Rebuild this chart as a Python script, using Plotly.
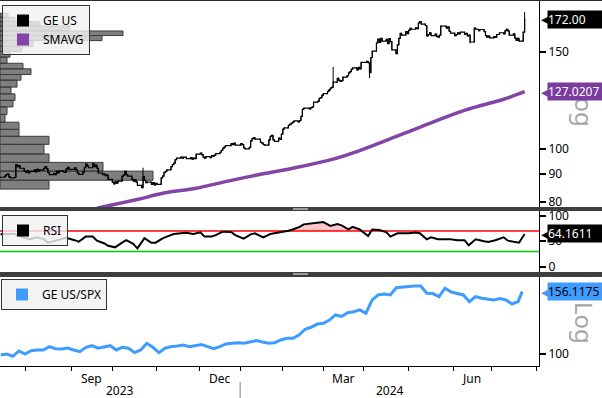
import numpy as np
import pandas as pd
import plotly.graph_objects as go

# ---------------- data ----------------
first_day = "2023-07-14"
axis_last_day = "2024-08-02"
holidays = ["2023-09-04", "2023-11-23", "2023-12-25", "2024-01-01", "2024-01-15",
            "2024-02-19", "2024-03-29", "2024-05-27", "2024-06-19", "2024-07-04"]

# GE US daily closes (258 trading days, 2023-07-14 .. 2024-07-23)
ge_close = [
    88.8, 89.2, 89.8, 90.0, 88.9, 88.6, 88.7, 93.6, 92.8, 93.2,
    92.2, 91.0, 90.6, 91.2, 90.4, 91.0, 91.5, 90.8, 91.8, 91.2,
    91.6, 92.2, 92.8, 92.0, 90.5, 89.8, 90.2, 89.8, 91.0, 90.4,
    91.2, 90.8, 90.6, 92.0, 92.6, 91.8, 92.4, 91.6, 90.4, 89.9,
    90.6, 92.4, 93.8, 93.0, 92.4, 94.0, 92.8, 93.4, 92.2, 90.4,
    89.8, 90.0, 89.4, 89.6, 88.0, 87.0, 86.4, 87.2, 86.6, 87.4,
    89.2, 89.6, 91.0, 89.8, 89.2, 88.0, 87.4, 87.8, 87.0, 85.8,
    85.0, 89.0, 87.6, 86.8, 87.0, 86.2, 86.8, 86.0, 86.6, 86.2,
    88.6, 89.2, 90.6, 91.0, 91.6, 92.8, 93.6, 94.2, 95.6, 96.2,
    96.6, 96.2, 96.6, 96.0, 96.4, 95.8, 96.2, 96.0, 97.8, 98.2,
    97.6, 96.6, 96.2, 96.8, 96.4, 97.2, 97.0, 97.4, 98.0, 98.6,
    99.4, 100.2, 100.8, 101.4, 102.2, 101.8, 102.4, 101.6, 102.2, 101.8,
    100.4, 100.0, 100.6, 103.4, 104.4, 104.8, 104.2, 102.8, 102.4, 101.8,
    101.6, 103.8, 105.4, 105.8, 103.8, 103.2, 104.6, 104.0, 106.4, 108.6,
    109.2, 110.4, 110.8, 111.4, 111.8, 112.4, 111.9, 112.6, 114.6, 118.0,
    118.6, 118.2, 118.8, 119.2, 121.6, 122.0, 123.6, 123.9, 125.2, 126.0,
    127.2, 128.0, 129.0, 129.4, 132.2, 134.4, 133.2, 132.6, 133.0, 135.0,
    135.8, 137.4, 138.2, 139.6, 140.4, 139.2, 140.6, 139.8, 143.6, 144.2,
    143.4, 137.6, 146.6, 150.5, 155.8, 158.4, 156.2, 158.8, 157.0, 158.2,
    155.4, 158.6, 156.6, 151.4, 149.0, 154.6, 158.8, 162.2, 161.0, 163.4,
    162.0, 164.2, 165.6, 165.0, 166.0, 165.4, 169.4, 170.4, 168.6, 167.6,
    160.4, 161.4, 162.6, 160.6, 161.6, 160.2, 159.6, 161.0, 167.2, 165.8,
    166.6, 163.6, 162.4, 160.6, 161.4, 162.6, 161.8, 163.0, 161.6, 162.2,
    160.4, 161.0, 156.4, 165.8, 165.0, 164.0, 164.8, 163.4, 160.6, 159.6,
    160.4, 159.2, 160.0, 159.4, 161.4, 162.6, 161.8, 164.0, 165.0, 163.8,
    161.0, 161.8, 159.0, 157.4, 158.8, 157.0, 163.0, 172.0,
]
# visible intraday wicks (trading-day index, high, low)
wick_day_idx = [71, 164, 181, 232, 257]
wick_high = [92.4, 140.9, 143.0, 160.4, 177.4]
wick_low = [85.4, 131.5, 134.5, 155.5, 165.5]

# 200-day simple moving average
sma_dates = ["2023-09-21", "2023-10-19", "2023-11-08", "2023-12-01", "2023-12-22",
             "2024-01-17", "2024-02-08", "2024-03-06", "2024-03-27", "2024-04-25",
             "2024-05-17", "2024-06-11", "2024-07-08", "2024-07-23"]
sma_vals = [78.0, 80.8, 83.1, 84.8, 87.2, 90.0, 92.2, 95.5, 99.3, 106.0,
            111.5, 117.7, 123.1, 127.0207]

# RSI and GE/SPX ratio, read every 3rd trading day (+ last day)
sample_step = 3
rsi_vals = [
    63.5, 64, 64.5, 60, 57, 54, 57.6, 54, 47, 51,
    52, 56.5, 52, 49, 59, 59, 51, 46, 41, 38,
    47, 52, 45, 36, 56, 47, 47, 55.6, 59, 64,
    65.5, 66.7, 64, 67.5, 59, 59, 62, 68.6, 68, 62,
    55, 63.5, 65.5, 57.6, 64, 65.5, 67, 70.6, 73, 78,
    83, 84.5, 86.3, 87.5, 80, 83.7, 81, 73, 78, 73,
    60, 73, 72, 68, 59, 65.5, 65.5, 65.5, 67, 65.5,
    53.7, 57.6, 53.7, 53.7, 53.7, 52, 52, 42, 53.7, 50,
    48.5, 52, 57.6, 51, 49, 47, 64.1611,
]
ratio_vals = [
    99.5, 100.2, 98.6, 102.4, 100.2, 102.6, 103.1, 103.1, 105.6, 104.0,
    103.8, 104.6, 103.1, 101.9, 105.1, 106.3, 104.4, 105.6, 106.3, 103.1,
    105.1, 104.4, 101.2, 103.1, 108.1, 105.1, 101.2, 104.4, 105.6, 106.1,
    106.8, 105.6, 106.1, 107.1, 105.6, 104.1, 105.6, 107.6, 108.1, 108.6,
    108.1, 109.4, 110.2, 109.1, 108.1, 108.6, 110.7, 112.1, 112.1, 114.7,
    119.5, 121.2, 124.0, 124.7, 127.6, 132.3, 130.9, 134.4, 135.3, 137.1,
    133.8, 147.0, 152.5, 153.6, 152.5, 160.5, 161.5, 162.0, 162.6, 162.6,
    154.4, 154.0, 150.7, 160.0, 155.7, 154.4, 152.5, 145.4, 150.7, 149.0,
    147.9, 147.2, 148.6, 147.2, 143.0, 145.4, 156.1175,
]

# volume-at-price histogram: price bin edges and volume per bin
vap_edges = [84.5, 87.7, 91.1, 94.5, 97.9, 101.9, 105.4, 108.5, 111.8, 115.5,
             119.2, 122.5, 125.9, 129.5, 133.3, 136.5, 139.8, 143.1, 146.8, 150.3,
             153.6, 157.3, 160.7, 163.8, 167.3, 170.3, 173.5, 176.4]
vap_volume = [49, 153, 103, 49, 44, 49, 19, 19, 5, 7,
              13, 15, 11, 17, 21, 31, 23, 7, 10, 22,
              33, 102, 123, 70, 40, 15, 8]

rsi_upper, rsi_lower = 70, 30
main_ticks = [80, 90, 100, 150]
rsi_ticks = [0, 50, 100]
ratio_ticks = [100]
month_labels = {9: "Sep", 12: "Dec", 3: "Mar", 6: "Jun"}

# ---------------- derived structures ----------------
FONT = "Noto Sans"
W, H = 602, 398
TOP, BOT = 1, 366           # plot-area pixel rows
RIGHT = 539                 # plot-area right edge (px)


def fy(px):
    return (BOT - px) / (BOT - TOP)


main_dom = [fy(207), fy(TOP)]
rsi_dom = [fy(272), fy(211)]
ratio_dom = [fy(BOT), fy(277)]
main_range = [np.log10(78.4), np.log10(185.7)]

days_all = [d for d in pd.bdate_range(first_day, axis_last_day)
            if d.strftime("%Y-%m-%d") not in holidays]
days = days_all[:len(ge_close)]
sample_idx = list(range(0, len(ge_close) - 2, sample_step)) + [len(ge_close) - 1]
sample_days = [days[i] for i in sample_idx]

opens = [ge_close[0]] + ge_close[:-1]
highs = [max(o, c) for o, c in zip(opens, ge_close)]
lows = [min(o, c) for o, c in zip(opens, ge_close)]
for k, h, l in zip(wick_day_idx, wick_high, wick_low):
    highs[k] = max(highs[k], h)
    lows[k] = min(lows[k], l)

x_range = [pd.Timestamp(first_day) - pd.Timedelta(hours=8),
           pd.Timestamp(axis_last_day) + pd.Timedelta(hours=7)]
rb = [dict(bounds=["sat", "mon"]), dict(values=holidays)]

month_starts, month_mid, month_txt = [], [], []
ser = pd.Series(days_all)
for (yy, mm), grp in ser.groupby([ser.dt.year, ser.dt.month]):
    grp = list(grp)
    if grp[0] != days_all[0]:
        month_starts.append(grp[0])
    if mm in month_labels:
        month_mid.append(grp[len(grp) // 2])
        month_txt.append(month_labels[mm])

PURPLE = "#8245a6"
BLUE = "#3f9cff"

fig = go.Figure()

# volume-at-price rectangles (subplot x / y, drawn first = underneath)
vx, vy = [], []
for lo, hi, v in zip(vap_edges[:-1], vap_edges[1:], vap_volume):
    vx += [0, v, v, 0, 0, None]
    vy += [lo, lo, hi, hi, lo, None]
fig.add_trace(go.Scatter(x=vx, y=vy, xaxis="x", yaxis="y", mode="lines", fill="toself",
                         fillcolor="#7f7f7f", line=dict(color="#3c3c3c", width=1),
                         showlegend=False, hoverinfo="skip"))

# SMA and price on their own date subplot (x4 / y4) stacked on top
fig.add_trace(go.Scatter(x=pd.to_datetime(sma_dates), y=sma_vals, xaxis="x4", yaxis="y4",
                         mode="lines", line=dict(color=PURPLE, width=3.5, shape="spline"),
                         showlegend=False, hoverinfo="skip"))
fig.add_trace(go.Ohlc(x=days, open=opens, high=highs, low=lows, close=ge_close,
                      xaxis="x4", yaxis="y4", tickwidth=0.5,
                      increasing=dict(line=dict(color="black", width=1)),
                      decreasing=dict(line=dict(color="black", width=1)),
                      showlegend=False, hoverinfo="skip"))
# close-to-open connections of consecutive bars (Bloomberg bar look)
fig.add_trace(go.Scatter(x=days, y=ge_close, xaxis="x4", yaxis="y4", mode="lines",
                         line=dict(color="black", width=1.2, shape="hv"),
                         showlegend=False, hoverinfo="skip"))

# RSI panel
fig.add_trace(go.Scatter(x=sample_days, y=[rsi_upper] * len(sample_days), xaxis="x2", yaxis="y2",
                         mode="lines", line=dict(width=0), showlegend=False, hoverinfo="skip"))
fig.add_trace(go.Scatter(x=sample_days, y=[max(v, rsi_upper) for v in rsi_vals], xaxis="x2",
                         yaxis="y2", mode="lines", line=dict(width=0), fill="tonexty",
                         fillcolor="rgba(255,0,0,0.22)", showlegend=False, hoverinfo="skip"))
fig.add_trace(go.Scatter(x=sample_days, y=rsi_vals, xaxis="x2", yaxis="y2", mode="lines",
                         line=dict(color="black", width=2), showlegend=False, hoverinfo="skip"))

# ratio panel
fig.add_trace(go.Scatter(x=sample_days, y=ratio_vals, xaxis="x3", yaxis="y3", mode="lines",
                         line=dict(color=BLUE, width=3), showlegend=False, hoverinfo="skip"))

# legend entries (square swatches)
for rank, (name, col, lg) in enumerate([("GE US", "black", "legend"), ("SMAVG", PURPLE, "legend"),
                                        ("RSI", "black", "legend2"),
                                        ("GE US/SPX", BLUE, "legend3")]):
    fig.add_trace(go.Scatter(x=[None], y=[None], xaxis="x3", yaxis="y3", mode="markers",
                             marker=dict(symbol="square", size=12, color=col),
                             name=name, legend=lg, legendrank=rank + 1, showlegend=True))

date_axis = dict(type="date", range=x_range, rangebreaks=rb, showgrid=False, zeroline=False,
                 rangeslider=dict(visible=False))
yax = dict(side="right", showgrid=False, zeroline=False, showline=True, linecolor="black",
           linewidth=1, ticks="outside", ticklen=6, tickwidth=2, tickcolor="black",
           tickfont=dict(family=FONT, size=12, color="black"))

legend_style = dict(bgcolor="rgba(241,241,241,0.82)", bordercolor="#333333", borderwidth=1,
                    font=dict(family=FONT, size=12, color="black"), xref="paper",
                    yref="paper", xanchor="left", yanchor="top", tracegroupgap=0,
                    traceorder="normal")

shapes = []
# panel separators
for p0, p1 in [(207, 211), (272, 277)]:
    shapes.append(dict(type="rect", xref="paper", yref="paper", x0=-0.01, x1=W / RIGHT + 0.01,
                       y0=fy(p1), y1=fy(p0), fillcolor="#3e3e3e", line=dict(width=0), layer="above"))
    for dy in (1.5, 2.5):
        shapes.append(dict(type="line", xref="paper", yref="paper", x0=293 / RIGHT, x1=308 / RIGHT,
                           y0=fy(p0 + dy), y1=fy(p0 + dy), line=dict(color="#9a9a9a", width=1),
                           layer="above"))
# top frame line
shapes.append(dict(type="line", xref="paper", yref="paper", x0=0, x1=W / RIGHT, y0=fy(0.5),
                   y1=fy(0.5), line=dict(color="#2a2a2a", width=1)))
# RSI bands
shapes.append(dict(type="line", xref="x2 domain", yref="y2", x0=0, x1=1, y0=rsi_upper,
                   y1=rsi_upper, line=dict(color="#ff0000", width=1.5), layer="below"))
shapes.append(dict(type="line", xref="x2 domain", yref="y2", x0=0, x1=1, y0=rsi_lower,
                   y1=rsi_lower, line=dict(color="#00d000", width=1.5), layer="below"))
# year separator below the month labels
jan_first = [d for d in days_all if d.year == 2024][0]
shapes.append(dict(type="line", xref="x3", yref="paper", x0=jan_first, x1=jan_first,
                   y0=fy(382), y1=fy(398), line=dict(color="#808080", width=1)))

annotations = []
# "Log" markers
for yc in (106, 323):
    annotations.append(dict(xref="paper", yref="paper", x=585 / RIGHT, y=fy(yc), text="Log",
                            textangle=90, showarrow=False, xanchor="center", yanchor="middle",
                            font=dict(family=FONT, size=24, color="#a6a6a6")))
# month labels
for d, t in zip(month_mid, month_txt):
    annotations.append(dict(xref="x3", yref="paper", x=d, y=fy(378), text=t, showarrow=False,
                            yanchor="middle", font=dict(family=FONT, size=12, color="black")))
# year labels
d2023 = [d for d in days_all if d.year == 2023]
d2024 = [d for d in days_all if d.year == 2024]
for grp, txt in [(d2023, "2023"), (d2024, "2024")]:
    annotations.append(dict(xref="x3", yref="paper", x=grp[len(grp) // 2], y=fy(390),
                            text=txt, showarrow=False, yanchor="middle",
                            font=dict(family=FONT, size=12, color="black")))


def value_tag(yref, yval, text, bg, fg):
    annotations.append(dict(xref="paper", x=1, xanchor="left", xshift=0, yref=yref, y=yval,
                            yanchor="middle", text="◀", showarrow=False,
                            font=dict(family="DejaVu Sans", size=14, color=bg)))
    annotations.append(dict(xref="paper", x=1, xanchor="left", xshift=8, yref=yref, y=yval,
                            yanchor="middle", text=text, showarrow=False, bgcolor=bg,
                            width=54, align="left", borderpad=0,
                            font=dict(family=FONT, size=12, color=fg)))


value_tag("y", np.log10(ge_close[-1]), f"{ge_close[-1]:.2f}", "black", "white")
value_tag("y", np.log10(sma_vals[-1]), f"{sma_vals[-1]:.4f}", "#7a3c9e", "white")
value_tag("y2", rsi_vals[-1], f"{rsi_vals[-1]:.4f}", "black", "white")
value_tag("y3", np.log10(ratio_vals[-1]), f"{ratio_vals[-1]:.4f}", BLUE, "black")

fig.update_layout(
    width=W, height=H,
    margin=dict(l=0, r=W - RIGHT, t=TOP, b=H - BOT, autoexpand=False),
    paper_bgcolor="white", plot_bgcolor="rgba(0,0,0,0)",
    font=dict(family=FONT, size=12, color="black"),
    xaxis=dict(domain=[0, 1], anchor="y", range=[0, RIGHT], visible=False),
    yaxis=dict(**yax, domain=main_dom, anchor="x", type="log", range=main_range,
               tickmode="array", tickvals=main_ticks),
    xaxis4=dict(**date_axis, domain=[0, 1], anchor="y4", visible=False),
    yaxis4=dict(domain=main_dom, anchor="x4", type="log", range=main_range, visible=False),
    xaxis2=dict(**date_axis, domain=[0, 1], anchor="y2", visible=False),
    yaxis2=dict(**yax, domain=rsi_dom, anchor="x2", range=[-10.4, 109.2], tickmode="array",
                tickvals=rsi_ticks),
    xaxis3=dict(**date_axis, domain=[0, 1], anchor="y3", showline=True, linecolor="black",
                linewidth=1, tickmode="array", tickvals=month_starts,
                ticktext=[""] * len(month_starts), ticks="outside", ticklen=4,
                tickcolor="black", tickwidth=1),
    yaxis3=dict(**yax, domain=ratio_dom, anchor="x3", type="log",
                range=[np.log10(92.0), np.log10(173.3)], tickmode="array", tickvals=ratio_ticks),
    legend=dict(**legend_style, x=2 / RIGHT, y=fy(5)),
    legend2=dict(**legend_style, x=2 / RIGHT, y=fy(215)),
    legend3=dict(**legend_style, x=1 / RIGHT, y=fy(279)),
    shapes=shapes,
    annotations=annotations,
    showlegend=True,
)

fig.write_html("out.html", config={"displayModeBar": False},
               post_script="document.body.style.margin='0';document.body.style.overflow='hidden';")
